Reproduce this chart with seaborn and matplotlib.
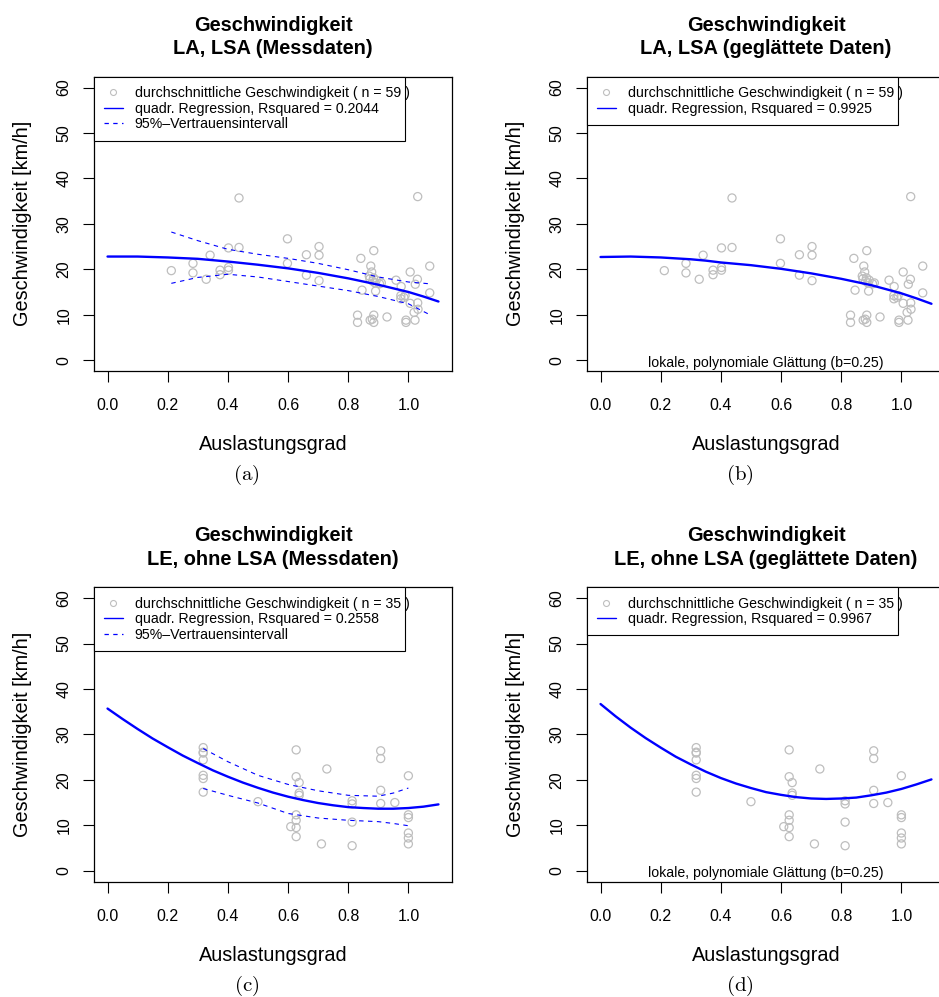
import numpy as np
import pandas as pd
import matplotlib
matplotlib.use("Agg")
import matplotlib.pyplot as plt
from matplotlib.lines import Line2D
import seaborn as sns

# ---------------- data ----------------
# LA, LSA: 59 measured points (same points in panels a and b)
la_x = [0.212, 0.284, 0.284, 0.328, 0.341, 0.374, 0.374, 0.402, 0.402, 0.402,
        0.437, 0.437, 0.598, 0.598, 0.661, 0.661, 0.703, 0.703, 0.703, 0.842,
        0.885, 0.875, 0.878, 0.870, 0.884, 0.893, 0.881, 0.904, 0.846, 0.891,
        0.831, 0.831, 0.873, 0.885, 0.885, 0.880, 0.929, 0.959, 0.976, 0.975,
        0.975, 0.989, 1.006, 1.030, 1.023, 1.006, 1.031, 1.019, 1.032, 0.992,
        0.992, 1.022, 1.031, 1.071, 1.071, 0.872, 0.889, 0.910, 0.985]
la_y = [19.7, 21.3, 19.2, 17.8, 23.1, 19.8, 18.8, 24.7, 20.4, 19.8,
        35.7, 24.8, 26.7, 21.3, 23.2, 18.7, 25.0, 23.1, 17.5, 22.4,
        24.1, 20.7, 19.4, 18.5, 18.1, 17.6, 17.4, 16.8, 15.4, 15.2,
        9.9, 8.3, 8.8, 9.9, 8.3, 9.0, 9.5, 17.6, 16.2, 14.2,
        13.5, 14.2, 19.4, 17.8, 16.7, 12.5, 12.6, 10.5, 11.2, 8.8,
        8.3, 8.8, 36.0, 20.7, 14.8, 17.9, 17.0, 17.0, 13.8]

# LE, ohne LSA: 35 measured points (same points in panels c and d)
le_x = [0.318, 0.318, 0.318, 0.318, 0.318, 0.318, 0.318, 0.500,
        0.627, 0.627, 0.627, 0.627, 0.627, 0.627, 0.609, 0.637, 0.637, 0.637,
        0.729, 0.711, 0.813, 0.813, 0.813, 0.813, 0.908, 0.908, 0.908, 0.908,
        0.955, 1.000, 1.000, 1.000, 1.000, 1.000, 1.000]
le_y = [27.1, 26.1, 25.9, 24.4, 21.0, 20.3, 17.3, 15.2,
        26.6, 20.7, 12.3, 11.1, 9.5, 7.5, 9.7, 19.4, 17.1, 16.6,
        22.4, 5.9, 15.4, 14.7, 10.7, 5.5, 26.4, 24.7, 17.7, 14.8,
        15.0, 20.9, 12.3, 11.7, 8.3, 7.2, 5.9]

fit_x = [0.00, 0.05, 0.10, 0.15, 0.20, 0.25, 0.30, 0.35, 0.40, 0.45, 0.50, 0.55,
         0.60, 0.65, 0.70, 0.75, 0.80, 0.85, 0.90, 0.95, 1.00, 1.05, 1.10]
la_mess_fit = [22.8, 22.8, 22.8, 22.7, 22.6, 22.45, 22.3, 22.0, 21.7, 21.35, 21.0, 20.6,
               20.2, 19.7, 19.2, 18.6, 18.0, 17.3, 16.6, 15.8, 15.0, 14.0, 12.9]
la_glatt_fit = [22.7, 22.75, 22.8, 22.7, 22.6, 22.4, 22.2, 21.9, 21.5, 21.2, 20.9, 20.5,
                20.1, 19.6, 19.1, 18.5, 17.9, 17.2, 16.5, 15.6, 14.7, 13.6, 12.4]
le_mess_fit = [35.7, 33.4, 31.2, 29.1, 27.2, 25.35, 23.7, 22.1, 20.7, 19.4, 18.25, 17.2,
               16.3, 15.55, 14.9, 14.4, 14.0, 13.8, 13.65, 13.65, 13.8, 14.1, 14.6]
le_glatt_fit = [36.7, 34.0, 31.5, 29.2, 27.1, 25.1, 23.4, 21.8, 20.4, 19.2, 18.2, 17.3,
                16.7, 16.2, 15.9, 15.8, 15.9, 16.1, 16.6, 17.2, 18.0, 19.0, 20.1]

# 95% confidence bands (measured data only)
la_ci_x = [0.212, 0.3, 0.4, 0.5, 0.6, 0.7, 0.8, 0.9, 1.0, 1.071]
la_ci_upper = [28.2, 26.3, 24.4, 23.3, 22.4, 21.3, 19.9, 18.3, 17.2, 16.8]
la_ci_lower = [16.9, 18.2, 18.9, 18.3, 17.3, 16.3, 15.3, 14.0, 12.4, 10.0]
le_ci_x = [0.318, 0.4, 0.5, 0.6, 0.7, 0.8, 0.9, 0.95, 1.0]
le_ci_upper = [26.9, 24.0, 21.0, 19.0, 17.6, 16.6, 16.4, 17.1, 18.2]
le_ci_lower = [18.1, 16.6, 14.9, 12.6, 11.6, 11.1, 10.8, 10.4, 9.9]

titles = ["LA, LSA (Messdaten)", "LA, LSA (geglättete Daten)",
          "LE, ohne LSA (Messdaten)", "LE, ohne LSA (geglättete Daten)"]
rsquared = ["0.2044", "0.9925", "0.2558", "0.9967"]
captions = ["a", "b", "c", "d"]
x_ticks = [0.0, 0.2, 0.4, 0.6, 0.8, 1.0]
x_tick_labels = ["0.0", "0.2", "0.4", "0.6", "0.8", "1.0"]
y_ticks = [0, 10, 20, 30, 40, 50, 60]
y_tick_labels = ["0", "10", "20", "30", "40", "50", "60"]

# ---------------- style ----------------
sns.set_theme(style="white")
plt.rcParams["font.family"] = ["Liberation Sans", "DejaVu Sans"]
plt.rcParams["mathtext.fontset"] = "cm"

W, H = 939, 997
fig = plt.figure(figsize=(W / 100, H / 100), dpi=100)
fig.patch.set_facecolor("white")

GREY = "#BEBEBE"
BLUE = "#0000FF"

ax_w, ax_h = 357.4, 294.3
lefts = [94.3, 587.3, 94.3, 587.3]
tops = [76.7, 76.7, 587.3, 587.3]


def fx(px):
    return px / W


def fy(py):
    return 1 - py / H


panels = [
    (la_x, la_y, la_mess_fit, (la_ci_x, la_ci_upper, la_ci_lower), 59),
    (la_x, la_y, la_glatt_fit, None, 59),
    (le_x, le_y, le_mess_fit, (le_ci_x, le_ci_upper, le_ci_lower), 35),
    (le_x, le_y, le_glatt_fit, None, 35),
]

for i, (px_, py_, fit, ci, n) in enumerate(panels):
    left, top = lefts[i], tops[i]
    ax = fig.add_axes([fx(left), fy(top + ax_h), ax_w / W, ax_h / H])
    ax.set_facecolor("white")

    pts = pd.DataFrame({"x": px_, "y": py_})
    sns.scatterplot(data=pts, x="x", y="y", ax=ax, marker="o", s=34,
                    facecolors="none", edgecolor=GREY, linewidth=0.9,
                    legend=False, zorder=2)

    fitdf = pd.DataFrame({"x": fit_x, "y": fit})
    sns.lineplot(data=fitdf, x="x", y="y", ax=ax, color=BLUE, linewidth=1.7,
                 estimator=None, errorbar=None, sort=False, zorder=3)

    if ci is not None:
        cx, cu, cl = ci
        for band in (cu, cl):
            bdf = pd.DataFrame({"x": cx, "y": band})
            sns.lineplot(data=bdf, x="x", y="y", ax=ax, color=BLUE,
                         linewidth=0.8, linestyle=(0, (4, 4)),
                         estimator=None, errorbar=None, sort=False, zorder=3)

    ax.set_xlim(-0.044, 1.144)
    ax.set_ylim(-2.4, 62.4)
    ax.set_xticks(x_ticks)
    ax.set_xticklabels(x_tick_labels)
    ax.set_yticks(y_ticks)
    ax.set_yticklabels(y_tick_labels)
    ax.tick_params(axis="both", direction="out", length=7.9, width=0.8,
                   color="black", labelcolor="black", labelsize=11.5,
                   bottom=True, left=True, top=False, right=False)
    ax.tick_params(axis="x", pad=11.8)
    ax.tick_params(axis="y", pad=8.5, labelrotation=90)
    for lbl in ax.get_yticklabels():
        lbl.set_verticalalignment("center")
    for sp in ax.spines.values():
        sp.set_visible(True)
        sp.set_color("black")
        sp.set_linewidth(0.9)

    ax.set_xlabel("Auslastungsgrad", fontsize=14.3, color="black")
    ax.xaxis.set_label_coords(0.5, (371 - 450) / ax_h)
    ax.xaxis.label.set_verticalalignment("baseline")
    ax.set_ylabel("Geschwindigkeit [km/h]", fontsize=14.3, color="black")
    ax.yaxis.set_label_coords(-72.0 / ax_w, 0.5)
    ax.yaxis.label.set_verticalalignment("center")

    # legend
    handles = [
        Line2D([], [], ls="none", marker="o", ms=4.3, mfc="none", mec=GREY, mew=0.8),
        Line2D([], [], color=BLUE, lw=1.0),
    ]
    labels = ["durchschnittliche Geschwindigkeit ( n = %d )" % n,
              "quadr. Regression, Rsquared = %s" % rsquared[i]]
    if ci is not None:
        handles.append(Line2D([], [], color=BLUE, lw=0.9, ls=(0, (3.5, 3.5))))
        labels.append("95%\u2013Vertrauensintervall")
    leg = ax.legend(handles, labels, loc="upper left",
                    bbox_to_anchor=(0, 0, 311.0 / ax_w, 1), mode="expand",
                    bbox_transform=ax.transAxes, borderaxespad=0,
                    fontsize=10.2, frameon=True, fancybox=False,
                    edgecolor="black", framealpha=1, handlelength=1.4,
                    handletextpad=0.8, labelspacing=0.12, borderpad=0.65,
                    numpoints=1)
    leg.get_frame().set_linewidth(0.8)
    for t in leg.get_texts():
        t.set_color("black")

    if ci is None:
        ax.text(0.5, 0.028, "lokale, polynomiale Glättung (b=0.25)",
                transform=ax.transAxes, ha="center", va="center",
                fontsize=10.2, color="black")

    # titles (two lines)
    cxp = left + ax_w / 2
    off = top - 76.7
    fig.text(fx(cxp), fy(30.7 + off), "Geschwindigkeit", ha="center",
             va="baseline", fontsize=14.4, fontweight="bold", color="black")
    fig.text(fx(cxp), fy(54.3 + off), titles[i], ha="center",
             va="baseline", fontsize=14.4, fontweight="bold", color="black")

    # sub-captions
    fig.text(fx(left + 152.4), fy(480 + off), r"$(\mathrm{%s})$" % captions[i],
             ha="center", va="baseline", fontsize=15, color="black")

fig.savefig("out.png", dpi=100, facecolor="white")
